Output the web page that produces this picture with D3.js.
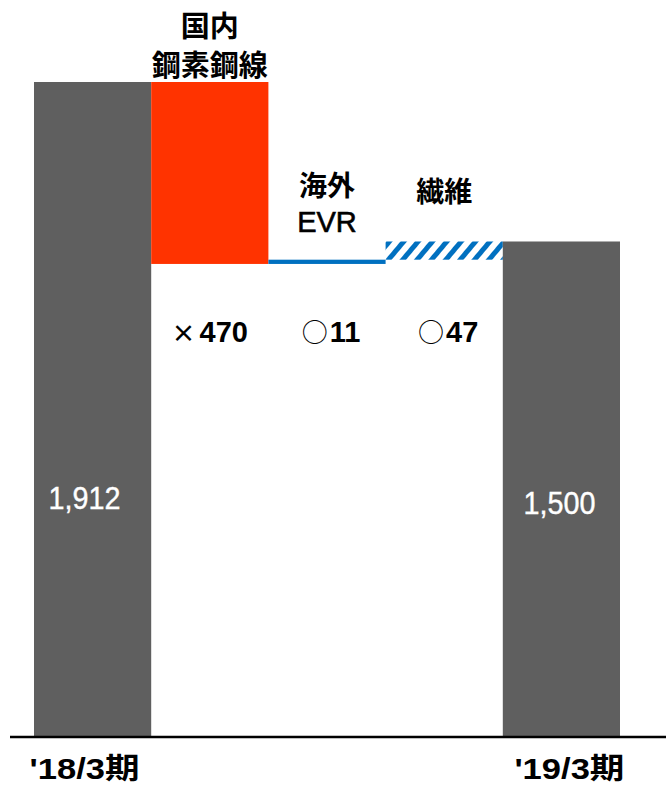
<!DOCTYPE html>
<html><head><meta charset="utf-8">
<script src="https://cdn.jsdelivr.net/npm/d3@7"></script>
<style>body{margin:0;background:#fff}svg{display:block}</style>
</head><body>
<script>
const categories = ["'18/3期", "国内鋼素鋼線", "海外EVR", "繊維", "'19/3期"];
const deltas = [1912, -470, 11, 47, 1500];
const kinds = ["total", "delta", "delta", "delta", "total"];
const topLabels = [null, ["国内", "鋼素鋼線"], ["海外", "EVR"], ["繊維"], null];
const changeSymbols = [null, "×", "○", "○", null];
const changeValues = [null, "470", "11", "47", null];
const xLabels = ["'18/3期", "", "", "", "'19/3期"];

const W = 666, H = 785;
const svg = d3.select("body").append("svg").attr("width", W).attr("height", H);
const defs = svg.append("defs");
const pat = defs.append("pattern").attr("id", "hatch").attr("patternUnits", "userSpaceOnUse")
  .attr("width", 11).attr("height", 11).attr("patternTransform", "rotate(40)");
pat.append("rect").attr("width", 11).attr("height", 11).attr("fill", "#fff");
pat.append("rect").attr("width", 5).attr("height", 11).attr("fill", "#0070C0");

let run = 0;
const data = categories.map((c, i) => {
  let y0, y1;
  if (kinds[i] === "total") { y0 = 0; y1 = deltas[i]; run = deltas[i]; }
  else { y0 = run; y1 = run + deltas[i]; run = y1; }
  return { cat: c, i, lo: Math.min(y0, y1), hi: Math.max(y0, y1), v: deltas[i], kind: kinds[i] };
});

const x = d3.scaleBand().domain(categories).range([34, 620]).paddingInner(0).paddingOuter(0);
const y = d3.scaleLinear().domain([220, 1912]).range([737, 82]);
const fills = ["#5f5f5f", "#FF3300", "#0070C0", "url(#hatch)", "#5f5f5f"];

svg.selectAll("rect.bar").data(data).enter().append("rect").attr("class", "bar")
  .attr("x", d => x(d.cat)).attr("width", x.bandwidth())
  .attr("y", d => y(d.hi))
  .attr("height", d => Math.max(0, Math.min(737, y(Math.max(d.lo, 220))) - y(d.hi)))
  .attr("fill", (d, i) => fills[i]);

svg.append("line").attr("x1", 10).attr("x2", 666).attr("y1", 737).attr("y2", 737)
  .attr("stroke", "#000").attr("stroke-width", 2.5);

const jp = "'Noto Sans CJK JP', 'Noto Sans', sans-serif";
const num = "'Liberation Sans', Arial, sans-serif";
const mixed = "'Liberation Sans', 'Noto Sans CJK JP', sans-serif";

svg.selectAll("text.val").data(data.filter(d => d.kind === "total")).enter().append("text")
  .attr("x", d => x(d.cat) + x.bandwidth() / 2 + (d.i === 0 ? -8 : -2))
  .attr("y", d => d.i === 0 ? 509 : 514)
  .attr("text-anchor", "middle").attr("fill", "#fff")
  .attr("font-family", num).attr("font-size", 31).attr("stroke", "#fff").attr("stroke-width", 0.4)
  .attr("textLength", 72).attr("lengthAdjust", "spacingAndGlyphs")
  .text(d => d3.format(",")(d.v));

data.forEach(d => {
  const tl = topLabels[d.i];
  if (!tl) return;
  const cx = x(d.cat) + x.bandwidth() / 2;
  let baseY, gap;
  if (d.i === 1) { baseY = 37; gap = 39; }
  else if (d.i === 2) { baseY = 196; gap = 36; }
  else { baseY = 202; gap = 36; }
  tl.forEach((t, k) => {
    const latin = /^[A-Z]+$/.test(t);
    svg.append("text").attr("x", cx).attr("y", baseY + k * gap)
      .attr("text-anchor", "middle").attr("font-family", latin ? num : jp)
      .attr("font-weight", latin ? "normal" : "bold").attr("font-size", latin ? 29 : (d.i === 1 ? 29 : 28))
      .attr("stroke", latin ? "#000" : "none").attr("stroke-width", 0.6)
      .attr("fill", "#000").text(t);
  });
  const t = svg.append("text").attr("x", cx + (d.i === 1 ? 0 : 4)).attr("y", 342)
    .attr("text-anchor", "middle").attr("fill", "#000");
  t.append("tspan").attr("font-family", jp).attr("font-weight", d.i === 1 ? "bold" : "normal")
    .attr("font-size", d.i === 1 ? 24 : 26).text(changeSymbols[d.i]);
  t.append("tspan").attr("font-family", num).attr("font-weight", "bold")
    .attr("font-size", 29).attr("dx", d.i === 1 ? 4 : 2).text(changeValues[d.i]);
});

data.forEach(d => {
  if (!xLabels[d.i]) return;
  svg.append("text").attr("x", x(d.cat) + x.bandwidth() / 2 + (d.i === 0 ? -8 : 8)).attr("y", 779)
    .attr("text-anchor", "middle").attr("font-family", mixed).attr("font-weight", "bold")
    .attr("font-size", 29).attr("textLength", 110).attr("lengthAdjust", "spacingAndGlyphs")
    .attr("fill", "#000").text(xLabels[d.i]);
});
</script>
</body></html>
